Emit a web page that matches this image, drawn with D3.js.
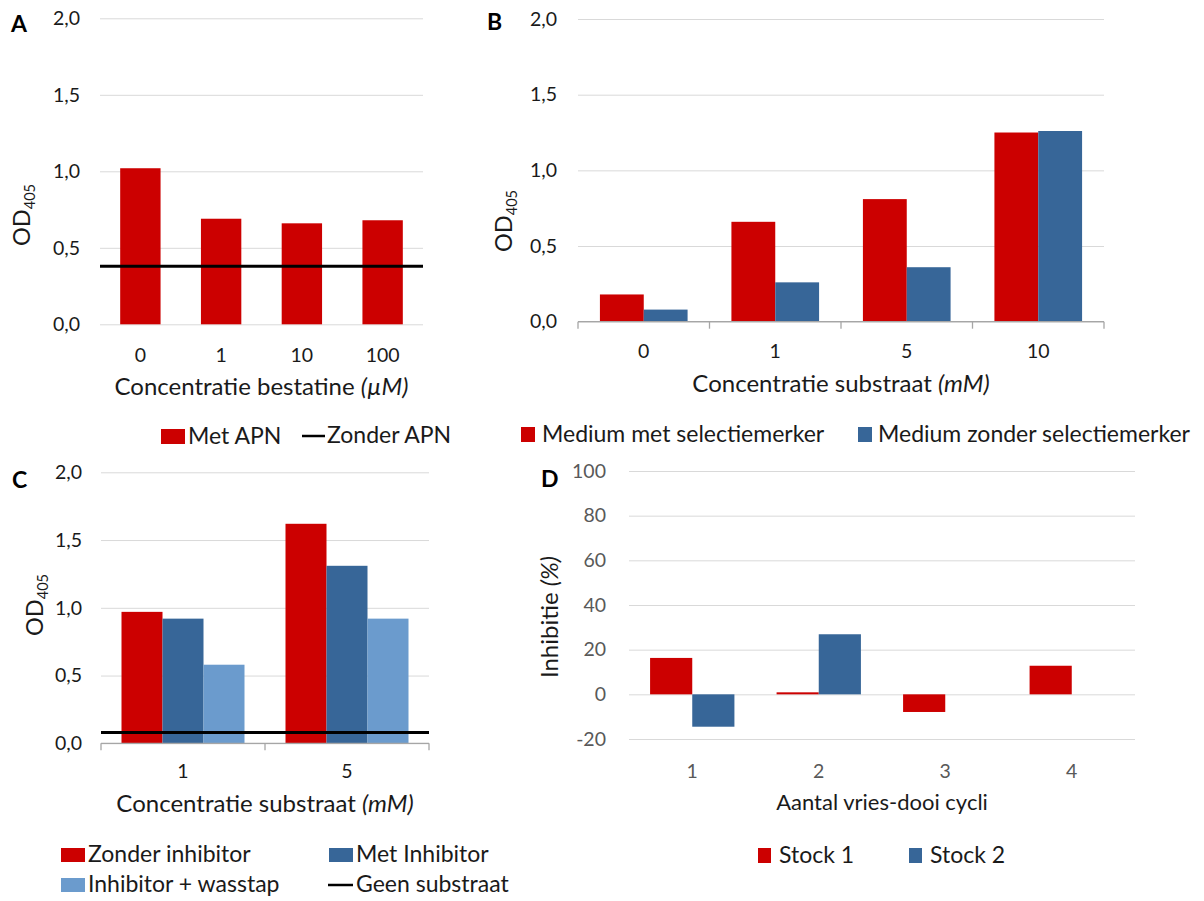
<!DOCTYPE html>
<html><head><meta charset="utf-8">
<script src="https://cdn.jsdelivr.net/npm/d3@7"></script>
<style>body{margin:0;background:#fff} svg{display:block;font-family:Lato,sans-serif}</style>
</head><body><svg id="c" width="1204" height="901"></svg>
<script>
// ---------- data ----------
const catsA = ["0", "1", "10", "100"];
const metAPN = [1.02, 0.69, 0.66, 0.68];
const zonderAPN = 0.38;

const catsB = ["0", "1", "5", "10"];
const mediumMet = [0.18, 0.66, 0.81, 1.25];
const mediumZonder = [0.08, 0.26, 0.36, 1.26];

const catsC = ["1", "5"];
const zonderInhibitor = [0.97, 1.62];
const metInhibitor = [0.92, 1.31];
const inhibitorWasstap = [0.58, 0.92];
const geenSubstraat = 0.08;

const catsD = ["1", "2", "3", "4"];
const stock1 = [16.3, 0.9, -7.9, 12.8];
const stock2 = [-14.5, 26.9, null, null];

const odTicks = [0, 0.5, 1.0, 1.5, 2.0];
const inhTicks = [-20, 0, 20, 40, 60, 80, 100];

// ---------- style ----------
const RED = "#cc0000", BLUE = "#376698", LIGHT = "#6b9bcd";
const TXT = "#1a1a1a";
const svg = d3.select("#c");
const fmtOD = d => d3.format(".1f")(d).replace(".", ",");
const fmtInh = d => String(d);

function panel(o) {
  const g = svg.append("g");
  const x = d3.scaleBand().domain(o.cats).range([o.x0, o.x1])
    .paddingInner(o.pi).paddingOuter(o.po);
  const y = d3.scaleLinear().domain(o.ydom).range([o.yb, o.yt]);
  const W = o.x1 - o.x0;

  // gridlines
  g.append("g").attr("transform", `translate(${o.x0},0)`)
    .call(d3.axisLeft(y).tickValues(o.ticks).tickSize(-W).tickFormat(""))
    .call(s => { s.select(".domain").remove(); s.selectAll("line").attr("stroke", "#d9d9d9").attr("stroke-width", 1); });

  // tick labels
  g.append("g").attr("transform", `translate(${o.labelX},0)`)
    .call(d3.axisLeft(y).tickValues(o.ticks).tickSize(0).tickPadding(0).tickFormat(o.fmt))
    .call(s => {
      s.select(".domain").remove();
      s.attr("font-family", null).attr("font-size", null);
      s.selectAll("text").attr("font-size", 19.5).attr("fill", o.tickColor || TXT);
    });

  // bars
  const x1 = d3.scaleBand().domain(d3.range(o.series.length)).range([0, x.bandwidth()]);
  o.series.forEach((s, si) => {
    g.append("g").selectAll("rect")
      .data(o.cats.map((c, i) => ({ c, v: s.values[i] })).filter(d => d.v !== null))
      .join("rect")
      .attr("x", d => x(d.c) + x1(si))
      .attr("width", x1.bandwidth())
      .attr("y", d => y(Math.max(0, d.v)))
      .attr("height", d => Math.abs(y(d.v) - y(0)))
      .attr("fill", s.color);
  });

  // axis with ticks
  if (o.axisTicks) {
    g.append("line").attr("x1", o.x0).attr("x2", o.x1).attr("y1", y(0)).attr("y2", y(0))
      .attr("stroke", "#a6a6a6").attr("stroke-width", 1.3);
    g.append("g").selectAll("line").data(d3.range(o.cats.length + 1)).join("line")
      .attr("x1", i => o.x0 + i * W / o.cats.length).attr("x2", i => o.x0 + i * W / o.cats.length)
      .attr("y1", y(0)).attr("y2", y(0) + 7)
      .attr("stroke", "#a6a6a6").attr("stroke-width", 1.3);
  }

  // horizontal reference line
  if (o.refLine !== undefined) {
    g.append("line").attr("x1", o.x0).attr("x2", o.x1)
      .attr("y1", y(o.refLine)).attr("y2", y(o.refLine))
      .attr("stroke", "#000").attr("stroke-width", 3);
  }

  // category labels
  g.append("g").selectAll("text").data(o.cats).join("text")
    .attr("x", c => x(c) + x.bandwidth() / 2).attr("y", o.catY)
    .attr("text-anchor", "middle").attr("font-size", 19.5).attr("fill", o.tickColor || TXT)
    .text(c => c);

  // x title
  const xt = g.append("text").attr("x", (o.x0 + o.x1) / 2).attr("y", o.titleY)
    .attr("text-anchor", "middle").attr("font-size", o.titleSize).attr("fill", TXT);
  xt.append("tspan").text(o.xTitle[0]);
  if (o.xTitle[1]) xt.append("tspan").attr("font-style", "italic").text(o.xTitle[1]);

  // y title
  const yt = g.append("text").attr("transform", `translate(${o.yTitleX},${o.yTitleY}) rotate(-90)`)
    .attr("text-anchor", "middle").attr("fill", TXT);
  if (o.yTitle === "OD") {
    yt.attr("font-size", 23.5);
    yt.append("tspan").text("OD");
    yt.append("tspan").attr("font-size", 14.5).attr("dy", 5).text("405");
  } else {
    yt.attr("font-size", 24);
    yt.append("tspan").text("Inhibitie ");
    yt.append("tspan").attr("font-style", "italic").text("(%)");
  }

  // panel letter
  g.append("text").attr("x", o.letterX).attr("y", o.letterY)
    .attr("font-size", 23).attr("font-weight", "bold").attr("fill", "#000").text(o.letter);

  // legend
  o.legend.forEach(l => {
    if (l.type === "rect") {
      g.append("rect").attr("x", l.x).attr("y", l.y - l.h).attr("width", l.w).attr("height", l.h).attr("fill", l.color);
    } else {
      g.append("line").attr("x1", l.x).attr("x2", l.x + l.w).attr("y1", l.y - 7).attr("y2", l.y - 7)
        .attr("stroke", "#000").attr("stroke-width", 2.5);
    }
    g.append("text").attr("x", l.tx).attr("y", l.y).attr("font-size", 23).attr("fill", TXT).text(l.label);
  });
}

// Panel A
panel({
  cats: catsA, x0: 100, x1: 423, pi: 0.5, po: 0.25,
  ydom: [0, 2], yb: 324.3, yt: 18.3, ticks: odTicks, fmt: fmtOD, labelX: 80,
  series: [{ values: metAPN, color: RED }],
  refLine: zonderAPN, axisTicks: false,
  catY: 362, titleY: 395, titleSize: 24, xTitle: ["Concentratie bestatine ", "(µM)"],
  yTitle: "OD", yTitleX: 30, yTitleY: 215,
  letter: "A", letterX: 11, letterY: 32,
  legend: [
    { type: "rect", x: 161, y: 444, w: 24, h: 15, color: RED, tx: 188, label: "Met APN" },
    { type: "line", x: 302, y: 443, w: 23, tx: 327, label: "Zonder APN" }
  ]
});

// Panel B
panel({
  cats: catsB, x0: 578, x1: 1104, pi: 1 / 3, po: 1 / 6,
  ydom: [0, 2], yb: 321.7, yt: 19, ticks: odTicks, fmt: fmtOD, labelX: 557,
  series: [{ values: mediumMet, color: RED }, { values: mediumZonder, color: BLUE }],
  axisTicks: true,
  catY: 358, titleY: 392, titleSize: 24, xTitle: ["Concentratie substraat ", "(mM)"],
  yTitle: "OD", yTitleX: 512, yTitleY: 221,
  letter: "B", letterX: 487, letterY: 30,
  legend: [
    { type: "rect", x: 521, y: 442, w: 14, h: 15, color: RED, tx: 542, label: "Medium met selectiemerker" },
    { type: "rect", x: 858, y: 442, w: 14, h: 15, color: BLUE, tx: 878, label: "Medium zonder selectiemerker" }
  ]
});

// Panel C
panel({
  cats: catsC, x0: 101, x1: 429, pi: 0.25, po: 0.125,
  ydom: [0, 2], yb: 743.3, yt: 472.3, ticks: odTicks, fmt: fmtOD, labelX: 82,
  series: [{ values: zonderInhibitor, color: RED }, { values: metInhibitor, color: BLUE }, { values: inhibitorWasstap, color: LIGHT }],
  refLine: geenSubstraat, axisTicks: true,
  catY: 778, titleY: 812, titleSize: 24, xTitle: ["Concentratie substraat ", "(mM)"],
  yTitle: "OD", yTitleX: 43, yTitleY: 605,
  letter: "C", letterX: 12, letterY: 488,
  legend: [
    { type: "rect", x: 61, y: 862, w: 24, h: 14, color: RED, tx: 88, label: "Zonder inhibitor" },
    { type: "rect", x: 329, y: 862, w: 24, h: 14, color: BLUE, tx: 356, label: "Met Inhibitor" },
    { type: "rect", x: 61, y: 892, w: 24, h: 14, color: LIGHT, tx: 88, label: "Inhibitor + wasstap" },
    { type: "line", x: 328, y: 892, w: 25, tx: 356, label: "Geen substraat" }
  ]
});

// Panel D
panel({
  cats: catsD, x0: 629, x1: 1135, pi: 1 / 3, po: 1 / 6,
  ydom: [-20, 100], yb: 739, yt: 471, ticks: inhTicks, fmt: fmtInh, labelX: 606,
  tickColor: "#595959",
  series: [{ values: stock1, color: RED }, { values: stock2, color: BLUE }],
  axisTicks: false,
  catY: 778, titleY: 810, titleSize: 22, xTitle: ["Aantal vries-dooi cycli"],
  yTitle: "INH", yTitleX: 558, yTitleY: 617,
  letter: "D", letterX: 541, letterY: 487,
  legend: [
    { type: "rect", x: 758, y: 863, w: 13, h: 15, color: RED, tx: 779, label: "Stock 1" },
    { type: "rect", x: 909, y: 863, w: 13, h: 15, color: BLUE, tx: 930, label: "Stock 2" }
  ]
});
</script></body></html>
